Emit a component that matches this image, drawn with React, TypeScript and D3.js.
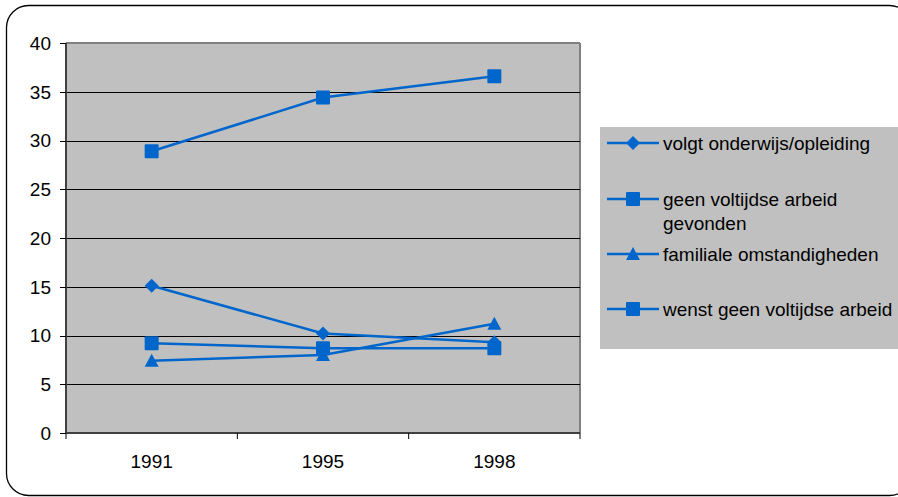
import React from "react";
import * as d3 from "d3";

const years = ["1991", "1995", "1998"];
const onderwijs = [15.1, 10.2, 9.3];
const geenGevonden = [28.9, 34.4, 36.6];
const familiaal = [7.4, 8.0, 11.2];
const wenstGeen = [9.2, 8.7, 8.7];
const yTicks = [0, 5, 10, 15, 20, 25, 30, 35, 40];

const seriesNames = [
  "volgt onderwijs/opleiding",
  "geen voltijdse arbeid gevonden",
  "familiale omstandigheden",
  "wenst geen voltijdse arbeid",
];
const seriesData = [onderwijs, geenGevonden, familiaal, wenstGeen];
const seriesMarkers = ["diamond", "square", "triangle", "square"];

const BLUE = "#0066CC";
const FONT = "'Liberation Sans', Arial, sans-serif";
const FS = 19;

function Marker({ type, x, y }: { type: string; x: number; y: number }) {
  if (type === "diamond") {
    const s = 7;
    return <path d={`M${x},${y - s}L${x + s},${y}L${x},${y + s}L${x - s},${y}Z`} fill={BLUE} />;
  }
  if (type === "triangle") {
    const s = 7;
    return <path d={`M${x},${y - s}L${x + s},${y + s - 1}L${x - s},${y + s - 1}Z`} fill={BLUE} />;
  }
  return <rect x={x - 7} y={y - 7} width={14} height={14} rx={1} fill={BLUE} />;
}

export default function App() {
  const W = 898, H = 497;
  const left = 66, right = 580, top = 43, bottom = 433;
  const x = d3.scaleBand<string>().domain(years).range([left, right]);
  const y = d3.scaleLinear().domain([0, 40]).range([bottom, top]);
  const line = d3
    .line<number>()
    .x((_, i) => (x(years[i]) as number) + x.bandwidth() / 2)
    .y((d) => y(d));

  const legendY = [143, 199, 254, 309];
  const legendLines = [
    [seriesNames[0]],
    ["geen voltijdse arbeid", "gevonden"],
    [seriesNames[2]],
    [seriesNames[3]],
  ];

  return (
    <svg width={W} height={H} style={{ position: "absolute", left: 0, top: 0 }} fontFamily={FONT}>
      <rect x={0} y={0} width={W} height={H} fill="#fff" />
      <rect x={6.5} y={5.5} width={905} height={490} rx={22} ry={22} fill="#fff" stroke="#000" strokeWidth={1.3} />
      {/* plot area */}
      <rect x={left} y={top} width={right - left} height={bottom - top} fill="#C0C0C0" />
      <line x1={left} x2={right} y1={top} y2={top} stroke="#808080" strokeWidth={2} />
      <line x1={right} x2={right} y1={top} y2={bottom} stroke="#808080" strokeWidth={2} />
      {yTicks.slice(1, -1).map((t) => (
        <line key={t} x1={left} x2={right} y1={Math.round(y(t)) + 0.5} y2={Math.round(y(t)) + 0.5} stroke="#000" strokeWidth={1} />
      ))}
      {/* axes */}
      <line x1={left} x2={left} y1={top} y2={bottom} stroke="#404040" strokeWidth={2} />
      <line x1={left} x2={right} y1={bottom} y2={bottom} stroke="#404040" strokeWidth={2} />
      {yTicks.map((t) => (
        <g key={t}>
          <line x1={60} x2={left} y1={Math.round(y(t)) + 0.5} y2={Math.round(y(t)) + 0.5} stroke="#000" />
          <text x={51} y={y(t)} dy="0.36em" textAnchor="end" fontSize={FS} fill="#000">
            {t}
          </text>
        </g>
      ))}
      {years.concat(["end"]).map((yr, i) => {
        const xx = i < years.length ? (x(yr) as number) : right;
        return <line key={yr} x1={xx} x2={xx} y1={bottom} y2={bottom + 6} stroke="#000" />;
      })}
      {years.map((yr) => (
        <text key={yr} x={(x(yr) as number) + x.bandwidth() / 2} y={468} textAnchor="middle" fontSize={FS} fill="#000">
          {yr}
        </text>
      ))}
      {/* series */}
      {seriesData.map((s, si) => (
        <g key={si}>
          <path d={line(s) as string} fill="none" stroke={BLUE} strokeWidth={2.5} />
          {s.map((v, i) => (
            <Marker key={i} type={seriesMarkers[si]} x={(x(years[i]) as number) + x.bandwidth() / 2} y={y(v)} />
          ))}
        </g>
      ))}
      {/* legend */}
      <rect x={600} y={127} width={310} height={222} fill="#C0C0C0" />
      {legendLines.map((lines, i) => (
        <g key={i}>
          <line x1={607} x2={659} y1={legendY[i]} y2={legendY[i]} stroke={BLUE} strokeWidth={2.5} />
          <Marker type={seriesMarkers[i]} x={633} y={legendY[i]} />
          {lines.map((l, j) => (
            <text key={j} x={663} y={legendY[i] + j * 24} dy="0.36em" fontSize={FS} fill="#000">
              {l}
            </text>
          ))}
        </g>
      ))}
    </svg>
  );
}
